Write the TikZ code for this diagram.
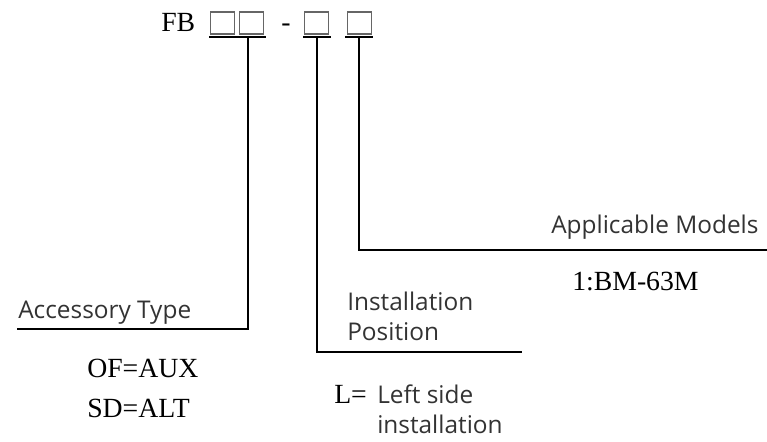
\documentclass[tikz,border=0pt]{standalone}
\usepackage{fontspec}
\setmainfont{Liberation Serif}
\newfontfamily\descfont{Open Sans}
\usetikzlibrary{positioning}

\begin{document}
\begin{tikzpicture}[x=0.75pt,y=-0.75pt,
    slot/.style={draw=black!60, line width=0.9pt, minimum width=18.5pt, minimum height=16.5pt, inner sep=0pt},
    code/.style={font=\fontsize{20.8}{24}\selectfont, inner sep=0pt},
    desc/.style={font=\descfont\fontsize{18.3}{22.5}\selectfont, text=black!80, inner sep=0pt, align=left},
    bar/.style={line width=1.6pt},
    lead/.style={line width=1pt}]
    \useasboundingbox (0,0) rectangle (767,442);

    % Code boxes
    \node[code, anchor=base west] (fb) at (161,32) {FB};
    \node[slot] (s1) at (222.5,23) {};
    \node[slot] (s2) at (251.5,23) {};
    \node[code, anchor=base west] (dash) at (281,32) {-};
    \node[slot] (s3) at (316.5,23) {};
    \node[slot] (s4) at (359.5,23) {};
    \draw[bar] (209,37) -- (266,37);
    \draw[bar] (303,37) -- (331,37);
    \draw[bar] (345,37) -- (373,37);

    % Accessory type
    \coordinate (u1) at (248,37);
    \coordinate (acc) at (17,329);
    \draw[lead] (u1) |- (acc);
    \node[desc, anchor=base west] (acctype) at (18,318) {Accessory Type};
    \node[code, anchor=base west] (of) at (87,377) {OF=AUX};
    \node[code, anchor=base west] (sd) at (87,417) {SD=ALT};

    % Installation position
    \coordinate (u3) at (317,37);
    \coordinate (pos) at (522,352);
    \draw[lead] (u3) |- (pos);
    \node[desc, anchor=base west] (inst) at (347,340) {Installation\\Position};
    \node[code, anchor=base west] (l) at (334,403) {L=};
    \node[desc, anchor=base west] (left) at (377,433) {Left side\\installation};

    % Applicable models
    \coordinate (u4) at (359,37);
    \coordinate (mod) at (767,250);
    \draw[lead] (u4) |- (mod);
    \node[desc, anchor=base west] (apply) at (551,233) {Applicable Models};
    \node[code, anchor=base west] (bm) at (572,290) {1:BM-63M};
\end{tikzpicture}
\end{document}
